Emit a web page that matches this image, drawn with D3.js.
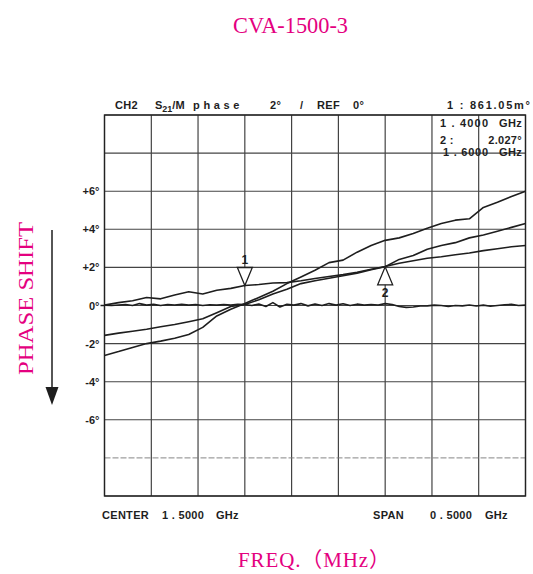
<!DOCTYPE html>
<html><head><meta charset="utf-8">
<script src="https://cdn.jsdelivr.net/npm/d3@7/dist/d3.min.js"></script>
<style>
html,body{margin:0;padding:0;background:#fff;}
svg{display:block;}
text{white-space:pre;}
</style></head>
<body>
<script>
// ---- data ----
const freqCoarse = [1.20,1.22,1.24,1.26,1.28,1.30,1.32,1.34,1.36,1.38,1.40,1.42,1.44,1.46,1.48,1.50,1.52,1.54,1.56,1.58,1.60,1.62,1.64,1.66,1.68,1.70,1.72,1.74,1.76,1.78,1.80];
const traceB = [0.02,0.15,0.25,0.42,0.35,0.55,0.72,0.60,0.80,0.90,1.05,1.10,1.18,1.20,1.30,1.42,1.52,1.62,1.75,1.90,2.05,2.22,2.35,2.48,2.56,2.66,2.76,2.88,2.98,3.08,3.15];
const traceC = [-1.57,-1.45,-1.35,-1.25,-1.12,-1.00,-0.85,-0.70,-0.38,-0.05,0.05,0.30,0.60,0.85,1.15,1.30,1.43,1.56,1.70,1.88,2.03,2.42,2.62,2.95,3.15,3.30,3.55,3.70,3.90,4.10,4.30];
const traceD = [-2.62,-2.42,-2.20,-2.00,-1.87,-1.72,-1.52,-1.15,-0.55,-0.20,0.10,0.42,0.75,1.15,1.50,1.85,2.25,2.38,2.80,3.15,3.42,3.55,3.78,4.05,4.30,4.48,4.55,5.15,5.42,5.72,6.00];
const freqFine = [1.20,1.21,1.22,1.23,1.24,1.25,1.26,1.27,1.28,1.29,1.30,1.31,1.32,1.33,1.34,1.35,1.36,1.37,1.38,1.39,1.40,1.41,1.42,1.43,1.44,1.45,1.46,1.47,1.48,1.49,1.50,1.51,1.52,1.53,1.54,1.55,1.56,1.57,1.58,1.59,1.60,1.61,1.62,1.63,1.64,1.65,1.66,1.67,1.68,1.69,1.70,1.71,1.72,1.73,1.74,1.75,1.76,1.77,1.78,1.79,1.80];
const traceA = [0.02,0.00,0.03,0.05,0.00,0.10,0.02,0.06,0.00,0.05,0.03,0.06,0.02,0.05,0.00,0.04,0.02,0.05,0.03,0.06,0.05,0.00,0.08,-0.05,0.15,-0.08,0.06,0.02,0.10,-0.02,0.08,0.00,0.10,0.02,0.09,0.00,0.07,0.02,0.05,0.03,0.10,0.05,-0.05,-0.10,-0.08,-0.03,-0.02,0.02,0.00,-0.05,0.00,-0.02,0.03,-0.03,0.02,-0.04,0.00,0.04,0.06,0.00,0.02];
const xGrid = [1.2,1.2667,1.3333,1.4,1.4667,1.5333,1.6,1.6667,1.7333,1.8];
const yGrid = [-10,-8,-6,-4,-2,0,2,4,6,8,10];
const yTickValues = [6,4,2,0,-2,-4,-6];
const yTickLabels = ["+6°","+4°","+2°","0°","-2°","-4°","-6°"];
const dashedLevels = [-8];
const markers = [{id:"1", f:1.40, trace:"B", dir:"down"},{id:"2", f:1.60, trace:"C", dir:"up"}];
// instrument annotation pieces: [text, x, y, anchor, width]
const instrTexts = [
  ["CH2",115,109,"start",null],
  ["p h a s e",193,109,"start",null],
  ["2°",270,109,"start",null],
  ["/",300,109,"start",null],
  ["REF",317,109,"start",null],
  ["0°",353,109,"start",null],
  ["1 : 861.05m°",447,109,"start",83],
  ["1 . 4000",440,127,"start",48],
  ["GHz",522,127,"end",null],
  ["2 :",440,144,"start",null],
  ["2.027°",522,144,"end",null],
  ["1 . 6000",443,156,"start",45],
  ["GHz",522,156,"end",null],
  ["CENTER",102,519,"start",null],
  ["1 . 5000",162,519,"start",null],
  ["GHz",216,519,"start",null],
  ["SPAN",373,519,"start",null],
  ["0 . 5000",430,519,"start",null],
  ["GHz",485,519,"start",null]
];
const sParam = ["S","21","/M"];
const titleText = "CVA-1500-3";
const xTitle = "FREQ.（MHz）";
const yTitle = "PHASE SHIFT";

// ---- layout ----
const W = 533, H = 574;
const L = 104.5, T = 115, R = 525.5, B = 496;
const magenta = "#e4007f";
const ink = "#1e1e1e";
const sans = "Liberation Sans, Arial, sans-serif";

const svg = d3.select("body").append("svg").attr("width", W).attr("height", H);
const x = d3.scaleLinear().domain([1.2, 1.8]).range([L, R]);
const y = d3.scaleLinear().domain([-10, 10]).range([B, T]);

// grid
const g = svg.append("g");
g.selectAll("line.v").data(xGrid).enter().append("line")
  .attr("x1", d => x(d)).attr("x2", d => x(d)).attr("y1", T).attr("y2", B)
  .attr("stroke", "#333").attr("stroke-width", 1.1);
g.selectAll("line.h").data(yGrid).enter().append("line")
  .attr("x1", L).attr("x2", R).attr("y1", d => y(d)).attr("y2", d => y(d))
  .attr("stroke", d => dashedLevels.includes(d) ? "#777" : "#444")
  .attr("stroke-width", d => dashedLevels.includes(d) ? 0.9 : 1.1)
  .attr("stroke-dasharray", d => dashedLevels.includes(d) ? "6,2" : null);
g.append("rect").attr("x", L).attr("y", T).attr("width", R - L).attr("height", B - T)
  .attr("fill", "none").attr("stroke", "#222").attr("stroke-width", 1.4);

// y-axis tick labels
const yAxis = d3.axisLeft(y).tickValues(yTickValues).tickSize(0).tickPadding(4)
  .tickFormat((d, i) => yTickLabels[i]);
const ya = svg.append("g").attr("transform", `translate(${L - 1},0)`).call(yAxis);
ya.select(".domain").remove();
ya.selectAll("text").attr("font-family", sans)
  .attr("font-size", 11).attr("font-weight", "bold").attr("fill", ink);
svg.append("line").attr("x1", L - 4).attr("x2", L).attr("y1", y(0)).attr("y2", y(0))
  .attr("stroke", ink).attr("stroke-width", 1.5);

// traces
const line = d3.line().x(d => x(d[0])).y(d => y(d[1]));
const series = {
  A: freqFine.map((f, i) => [f, traceA[i]]),
  B: freqCoarse.map((f, i) => [f, traceB[i]]),
  C: freqCoarse.map((f, i) => [f, traceC[i]]),
  D: freqCoarse.map((f, i) => [f, traceD[i]])
};
["A","B","C","D"].forEach(k => {
  svg.append("path").datum(series[k]).attr("d", line)
    .attr("fill", "none").attr("stroke", ink).attr("stroke-width", 1.6)
    .attr("stroke-linejoin", "round");
});

// markers
const lookup = {B: traceB, C: traceC, D: traceD};
markers.forEach(m => {
  const idx = freqCoarse.findIndex(f => Math.abs(f - m.f) < 1e-6);
  const v = lookup[m.trace][idx];
  const px = x(m.f), py = y(v);
  const hw = 7.5, h = 18;
  let pts, ty;
  if (m.dir === "down") { pts = [[px - hw, py - h], [px + hw, py - h], [px, py]]; ty = py - h - 3; }
  else { pts = [[px - hw, py + h], [px + hw, py + h], [px, py]]; ty = py + h + 12; }
  svg.append("polygon").attr("points", pts.map(p => p.join(",")).join(" "))
    .attr("fill", "#fff").attr("stroke", ink).attr("stroke-width", 1.3);
  svg.append("text").attr("x", px).attr("y", ty).attr("text-anchor", "middle")
    .attr("font-family", sans).attr("font-size", 12)
    .attr("font-weight", "bold").attr("fill", ink).text(m.id);
});

// instrument text
instrTexts.forEach(([t, xx, yy, a, w]) => {
  const tx = svg.append("text").attr("x", xx).attr("y", yy).attr("text-anchor", a)
    .attr("font-family", sans).attr("font-size", 11).attr("font-weight", "bold")
    .attr("fill", ink).text(t);
  if (w) tx.attr("textLength", w).attr("lengthAdjust", "spacing");
  else tx.attr("letter-spacing", 0.3);
});
const te = svg.append("text").attr("x", 155).attr("y", 109)
  .attr("font-family", sans).attr("font-size", 11).attr("font-weight", "bold").attr("fill", ink);
te.append("tspan").text(sParam[0]);
te.append("tspan").attr("dy", 3).attr("font-size", 9).text(sParam[1]);
te.append("tspan").attr("dy", -3).text(sParam[2]);

// magenta titles
const serif = "Liberation Serif, 'Times New Roman', 'Noto Sans CJK JP', serif";
svg.append("text").attr("x", 233).attr("y", 33)
  .attr("textLength", 115).attr("lengthAdjust", "spacingAndGlyphs")
  .attr("font-family", serif).attr("font-size", 24).attr("fill", magenta).text(titleText);
svg.append("text").attr("x", 238).attr("y", 567)
  .attr("textLength", 152).attr("lengthAdjust", "spacing")
  .attr("font-family", serif).attr("font-size", 21).attr("fill", magenta).text(xTitle);
svg.append("text").attr("transform", "translate(33,375) rotate(-90)")
  .attr("textLength", 153).attr("lengthAdjust", "spacingAndGlyphs")
  .attr("font-family", serif).attr("font-size", 22).attr("fill", magenta).text(yTitle);

// downward arrow
svg.append("line").attr("x1", 52).attr("x2", 52).attr("y1", 230).attr("y2", 392)
  .attr("stroke", ink).attr("stroke-width", 1.5);
svg.append("polygon").attr("points", "45.5,387 58.5,387 52,405").attr("fill", ink);
</script>
</body></html>
